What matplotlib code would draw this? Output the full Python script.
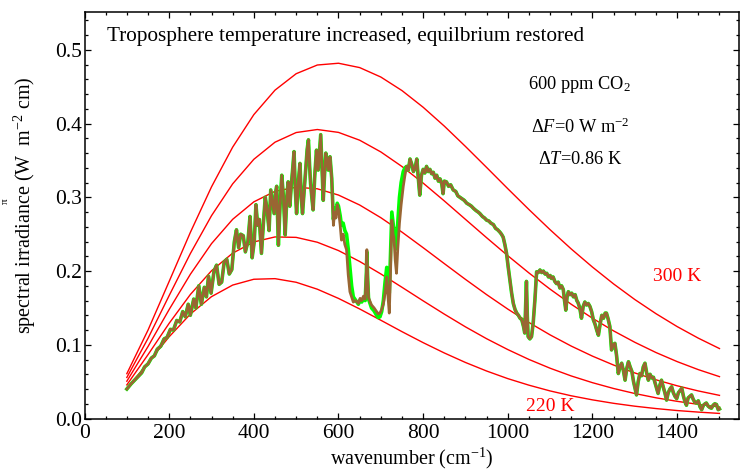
import matplotlib
matplotlib.use("Agg")
import matplotlib.pyplot as plt
from matplotlib.ticker import MultipleLocator

plt.rcParams["font.family"] = ["Liberation Serif", "DejaVu Serif"]
plt.rcParams["mathtext.fontset"] = "custom"
plt.rcParams["mathtext.rm"] = "Liberation Serif"
plt.rcParams["mathtext.it"] = "Liberation Serif:italic"

# blackbody curves, every 50 cm-1
planck_wn = [100, 150, 200, 250, 300, 350, 400, 450, 500, 550, 600, 650, 700, 750, 800,
             850, 900, 950, 1000, 1050, 1100, 1150, 1200, 1250, 1300, 1350, 1400, 1450, 1500]
b300 = [0.0608, 0.1199, 0.1860, 0.2524, 0.3142, 0.3681, 0.4122, 0.4454, 0.4677, 0.4795,
        0.4819, 0.4760, 0.4632, 0.4448, 0.4222, 0.3966, 0.3690, 0.3405, 0.3117, 0.2834,
        0.2560, 0.2299, 0.2054, 0.1825, 0.1614, 0.1422, 0.1247, 0.1090, 0.0949]
b280 = [0.0557, 0.1087, 0.1668, 0.2237, 0.2751, 0.3183, 0.3516, 0.3748, 0.3879, 0.3920,
        0.3881, 0.3775, 0.3616, 0.3418, 0.3193, 0.2951, 0.2701, 0.2452, 0.2208, 0.1974,
        0.1754, 0.1549, 0.1360, 0.1188, 0.1034, 0.0895, 0.0772, 0.0663, 0.0568]
b260 = [0.0506, 0.0976, 0.1479, 0.1956, 0.2372, 0.2702, 0.2939, 0.3082, 0.3137, 0.3116,
        0.3031, 0.2896, 0.2724, 0.2528, 0.2317, 0.2101, 0.1887, 0.1680, 0.1484, 0.1302,
        0.1134, 0.0982, 0.0846, 0.0725, 0.0618, 0.0525, 0.0444, 0.0374, 0.0314]
b240 = [0.0456, 0.0866, 0.1292, 0.1682, 0.2004, 0.2243, 0.2395, 0.2463, 0.2457, 0.2391,
        0.2278, 0.2130, 0.1961, 0.1780, 0.1596, 0.1416, 0.1243, 0.1082, 0.0935, 0.0801,
        0.0682, 0.0577, 0.0486, 0.0407, 0.0339, 0.0281, 0.0233, 0.0192, 0.0157]
b220 = [0.0405, 0.0758, 0.1109, 0.1416, 0.1653, 0.1810, 0.1889, 0.1897, 0.1848, 0.1754,
        0.1629, 0.1486, 0.1333, 0.1178, 0.1029, 0.0889, 0.0760, 0.0644, 0.0541, 0.0452,
        0.0374, 0.0308, 0.0253, 0.0206, 0.0167, 0.0135, 0.0108, 0.0087, 0.0069]

# outgoing spectrum (brown, 600 ppm)
spec_wn = [100, 110, 120, 128, 135, 142, 150, 158, 165, 172, 180, 188, 195, 203, 210, 218,
           225, 232, 238, 245, 250, 258, 263, 270, 276, 283, 288, 293, 299, 306, 312, 318,
           324, 330, 336, 342, 348, 354, 359, 364, 369, 375, 380, 386, 391, 396, 401, 405,
           409, 413, 418, 423, 427, 431, 436, 440, 445, 448, 451, 454, 458, 462, 466, 470,
           474, 478, 481, 485, 489, 492, 495, 498, 501, 505, 509, 512, 515, 519, 523, 526,
           529, 532, 534, 537, 540, 544, 548, 552, 555, 558, 561, 564, 567, 570, 573, 576,
           580, 584, 588, 591, 594, 597, 600, 604, 607, 611, 615, 619, 623, 627, 631, 635,
           641, 647, 651, 655, 659, 663, 666, 667, 669, 671, 675, 678, 684, 690, 694, 698,
           702, 706, 710, 714, 717, 720, 723, 726, 729, 731, 734, 737, 740, 744, 748, 753,
           757, 761, 765, 769, 773, 777, 781, 785, 788, 792, 796, 800, 804, 808, 812, 816,
           820, 824, 828, 832, 836, 840, 844, 847, 850, 855, 860, 865, 871, 877, 882, 887,
           892, 897, 903, 909, 914, 919, 925, 930, 934, 940, 945, 950, 955, 960, 966, 971,
           976, 981, 985, 989, 993, 997, 1001, 1005, 1009, 1013, 1017, 1021, 1025, 1029,
           1033, 1037, 1040, 1042, 1044, 1046, 1048, 1052, 1056, 1060, 1064, 1068, 1072,
           1076, 1080, 1084, 1088, 1092, 1096, 1100, 1103, 1107, 1111, 1115, 1119, 1123,
           1127, 1131, 1134, 1137, 1140, 1143, 1147, 1151, 1155, 1159, 1163, 1166, 1170,
           1174, 1178, 1182, 1186, 1190, 1194, 1198, 1202, 1206, 1210, 1214, 1218, 1222,
           1226, 1230, 1233, 1237, 1241, 1245, 1249, 1253, 1257, 1261, 1265, 1269, 1273,
           1277, 1281, 1285, 1289, 1293, 1297, 1301, 1304, 1308, 1312, 1316, 1320, 1324,
           1328, 1332, 1336, 1340, 1344, 1348, 1352, 1355, 1359, 1363, 1367, 1371, 1375,
           1379, 1383, 1387, 1391, 1395, 1399, 1403, 1407, 1411, 1415, 1419, 1422, 1426,
           1430, 1434, 1438, 1442, 1446, 1450, 1454, 1458, 1462, 1466, 1469, 1473, 1477,
           1481, 1485, 1489, 1493, 1497, 1500]
spec_new = [0.040, 0.047, 0.053, 0.058, 0.062, 0.070, 0.074, 0.082, 0.085, 0.094, 0.098,
            0.108, 0.110, 0.121, 0.120, 0.133, 0.131, 0.145, 0.138, 0.155, 0.140, 0.162,
            0.150, 0.180, 0.155, 0.178, 0.165, 0.193, 0.170, 0.200, 0.208, 0.182, 0.185,
            0.212, 0.216, 0.196, 0.202, 0.240, 0.256, 0.232, 0.250, 0.248, 0.226, 0.240,
            0.274, 0.218, 0.240, 0.290, 0.262, 0.270, 0.224, 0.268, 0.300, 0.285, 0.255,
            0.310, 0.290, 0.278, 0.305, 0.315, 0.235, 0.290, 0.330, 0.300, 0.249, 0.300,
            0.321, 0.288, 0.320, 0.340, 0.362, 0.310, 0.278, 0.320, 0.346, 0.300, 0.278,
            0.310, 0.340, 0.365, 0.378, 0.340, 0.319, 0.300, 0.283, 0.330, 0.364, 0.337,
            0.360, 0.385, 0.340, 0.296, 0.330, 0.360, 0.350, 0.337, 0.355, 0.326, 0.262,
            0.280, 0.272, 0.290, 0.283, 0.262, 0.242, 0.250, 0.236, 0.229, 0.195, 0.172,
            0.165, 0.158, 0.160, 0.156, 0.163, 0.160, 0.166, 0.162, 0.200, 0.229, 0.190,
            0.164, 0.158, 0.154, 0.150, 0.145, 0.142, 0.143, 0.148, 0.155, 0.170, 0.192,
            0.165, 0.143, 0.200, 0.269, 0.250, 0.245, 0.215, 0.197, 0.230, 0.265, 0.290,
            0.315, 0.330, 0.342, 0.337, 0.352, 0.345, 0.335, 0.340, 0.352, 0.330, 0.303,
            0.330, 0.338, 0.333, 0.342, 0.335, 0.338, 0.332, 0.334, 0.326, 0.330, 0.322,
            0.325, 0.318, 0.305, 0.322, 0.321, 0.315, 0.317, 0.310, 0.308, 0.302, 0.300,
            0.298, 0.296, 0.292, 0.290, 0.288, 0.285, 0.282, 0.280, 0.278, 0.274, 0.272,
            0.269, 0.268, 0.265, 0.263, 0.258, 0.256, 0.253, 0.250, 0.246, 0.236, 0.224,
            0.205, 0.188, 0.170, 0.156, 0.148, 0.143, 0.140, 0.136, 0.134, 0.125, 0.116,
            0.150, 0.186, 0.140, 0.111, 0.108, 0.111, 0.130, 0.161, 0.199, 0.198, 0.2015,
            0.198, 0.200, 0.196, 0.197, 0.192, 0.194, 0.190, 0.192, 0.186, 0.183, 0.185,
            0.177, 0.180, 0.175, 0.160, 0.147, 0.165, 0.172, 0.168, 0.170, 0.165, 0.168,
            0.160, 0.157, 0.150, 0.136, 0.152, 0.158, 0.154, 0.156, 0.152, 0.145, 0.134,
            0.128, 0.120, 0.113, 0.128, 0.140, 0.136, 0.143, 0.143, 0.135, 0.125, 0.093,
            0.100, 0.102, 0.085, 0.061, 0.070, 0.075, 0.065, 0.052, 0.068, 0.077, 0.070,
            0.064, 0.050, 0.040, 0.032, 0.050, 0.061, 0.058, 0.070, 0.075, 0.062, 0.052,
            0.060, 0.055, 0.056, 0.048, 0.040, 0.034, 0.045, 0.052, 0.043, 0.035, 0.025,
            0.035, 0.040, 0.043, 0.035, 0.030, 0.027, 0.035, 0.038, 0.041, 0.030, 0.022,
            0.018, 0.028, 0.030, 0.032, 0.026, 0.022, 0.021, 0.024, 0.016, 0.012, 0.018,
            0.020, 0.021, 0.017, 0.015, 0.014, 0.018, 0.020, 0.019, 0.012, 0.013]

# reference spectrum (green) inside the CO2 band, where it differs from the brown one
band_wn = [588, 591, 594, 597, 600, 604, 607, 611, 615, 619, 623, 627, 631, 635, 641, 647,
           651, 655, 659, 663, 666, 667, 669, 671, 675, 678, 684, 690, 694, 698, 702, 706,
           710, 714, 717, 720, 723, 726, 729, 731, 734, 737, 740, 744, 748, 753, 757]
band_old = [0.270, 0.285, 0.278, 0.292, 0.288, 0.275, 0.262, 0.265, 0.255, 0.250, 0.230,
            0.205, 0.180, 0.165, 0.160, 0.155, 0.161, 0.158, 0.163, 0.160, 0.198, 0.226,
            0.188, 0.162, 0.155, 0.150, 0.146, 0.140, 0.137, 0.138, 0.145, 0.160, 0.185,
            0.205, 0.180, 0.170, 0.225, 0.280, 0.265, 0.255, 0.240, 0.230, 0.265, 0.300,
            0.320, 0.335, 0.340]

fig = plt.figure(figsize=(7.4, 4.73), dpi=100)
ax = fig.add_axes([0.1142, 0.1152, 0.8838, 0.8588])

for vals in [b300, b280, b260, b240, b220]:
    ax.plot(planck_wn, vals, color="#ff0000", lw=1.0)

green_wn = [w for w in spec_wn if w < band_wn[0]] + band_wn + [w for w in spec_wn if w > band_wn[-1]]
green_vals = ([v for w, v in zip(spec_wn, spec_new) if w < band_wn[0]] + band_old
              + [v for w, v in zip(spec_wn, spec_new) if w > band_wn[-1]])
ax.plot(green_wn, green_vals, color="#00ff00", lw=2.6, solid_joinstyle="round")
ax.plot(spec_wn, spec_new, color="#996633", lw=2.0, solid_joinstyle="round")

ax.set_xlim(0, 1545)
ax.set_ylim(0, 0.551)
ax.xaxis.set_major_locator(MultipleLocator(200))
ax.xaxis.set_minor_locator(MultipleLocator(50))
ax.yaxis.set_major_locator(MultipleLocator(0.1))
ax.yaxis.set_minor_locator(MultipleLocator(0.02))
ax.yaxis.set_major_formatter(plt.FuncFormatter(lambda v, p: f"{v:.1f}"))
ax.tick_params(which="both", direction="in", top=True, right=True, width=0.9,
               labelsize=15.5, pad=2)
ax.tick_params(axis="x", which="major", pad=4)
ax.tick_params(which="major", length=4)
ax.tick_params(which="minor", length=2.2)
for s in ax.spines.values():
    s.set_linewidth(1.1)

ax.set_xlabel(r"wavenumber (cm$^{-1}$)", fontsize=14.5)
ax.set_ylabel(r"spectral irradiance (W  m$^{-2}$ cm)", fontsize=14.5)
ax.xaxis.set_label_coords(0.5, -0.066)
ax.yaxis.set_label_coords(-0.071, 0.526)

ax.text(53, 0.5176, "Troposphere temperature increased, equilbrium restored",
        fontsize=15.3, ha="left", va="center")
ax.text(1170, 0.4525, r"600 ppm CO$_2$", fontsize=13.2, ha="center", va="center")
ax.text(1170, 0.3955, r"$\Delta\mathit{F}$=0 W m$^{-2}$", fontsize=13.2, ha="center", va="center")
ax.text(1170, 0.3507, r"$\Delta\mathit{T}$=0.86 K", fontsize=13.2, ha="center", va="center")
ax.text(1400, 0.193, "300 K", color="#ff0000", fontsize=14, ha="center", va="center")
ax.text(1100, 0.016, "220 K", color="#ff0000", fontsize=14, ha="center", va="center")
fig.text(5 / 740, 1 - 201 / 473, "π", fontsize=8, rotation=90, ha="center", va="center")

fig.savefig("out.png", dpi=100)
